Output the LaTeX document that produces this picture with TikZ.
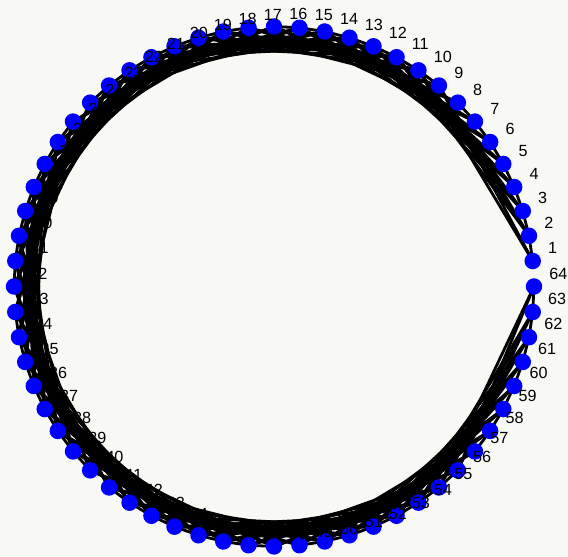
\documentclass[tikz,border=0pt]{standalone}
\usepackage{fontspec}
\setmainfont{Liberation Sans}
\usetikzlibrary{backgrounds}
\definecolor{figbg}{RGB}{248,248,245}
\tikzset{
  vert/.style={circle, fill=blue, inner sep=0pt, minimum size=0.33cm},
  vlabel/.style={anchor=west, inner sep=0pt, font=\fontsize{9.2}{11}\selectfont},
  gridedge/.style={line width=1.6pt, black}
}
\begin{document}
\begin{tikzpicture}
  \useasboundingbox (0,0) rectangle (11.36,11.14);
  \begin{scope}[shift={(5.48,5.41)}]
    \foreach \i in {1,...,64}
      \node[vert] (v\i) at ({\i*5.625}:5.2) {};
    \foreach \i in {1,...,64}
      \node[vlabel] (l\i) at ([shift={(0.30,0.26)}]v\i.center) {\i};
  \end{scope}
  \begin{scope}[on background layer]
    \fill[figbg] (0,0) rectangle (11.36,11.14);
    % 8x8 grid, king moves
    \foreach \row in {0,...,7}
      \foreach \col in {1,...,8} {
        \pgfmathtruncatemacro\vk{8*\row+\col}
        \pgfmathtruncatemacro\va{\vk+1}
        \pgfmathtruncatemacro\vb{\vk+7}
        \pgfmathtruncatemacro\vc{\vk+8}
        \pgfmathtruncatemacro\vd{\vk+9}
        \ifnum\col<8 \draw[gridedge] (v\vk.center) -- (v\va.center); \fi
        \ifnum\row<7
          \draw[gridedge] (v\vk.center) -- (v\vc.center);
          \ifnum\col<8 \draw[gridedge] (v\vk.center) -- (v\vd.center); \fi
          \ifnum\col>1 \draw[gridedge] (v\vk.center) -- (v\vb.center); \fi
        \fi
      }
  \end{scope}
\end{tikzpicture}
\end{document}
